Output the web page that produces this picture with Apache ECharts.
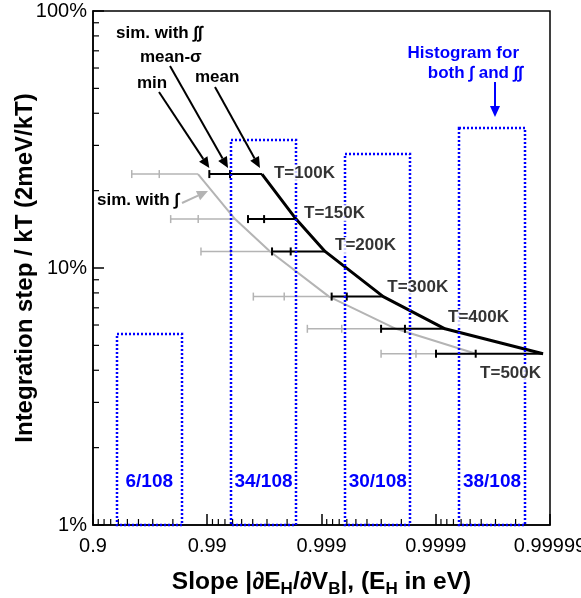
<!DOCTYPE html>
<html>
<head>
<meta charset="utf-8">
<script src="https://cdn.jsdelivr.net/npm/echarts@6/dist/echarts.min.js"></script>
<style>
html, body { margin: 0; padding: 0; background: #fff; }
#chart { width: 581px; height: 598px; }
</style>
</head>
<body>
<div id="chart"></div>
<script>
// integration step (in % of kT), one per temperature
var temps = ['T=100K', 'T=150K', 'T=200K', 'T=300K', 'T=400K', 'T=500K'];
var stepPct = [23.2, 15.5, 11.6, 7.74, 5.80, 4.64];

// x is plotted as (1 - slope) on a reversed log axis
// sim. with double integral (black)
var dblMin    = [0.00959, 0.00440, 0.00271, 0.000815, 0.000301, 0.0000995];
var dblMeanSd = [0.00632, 0.00318, 0.00186, 0.000601, 0.000186, 0.0000447];
var dblMean   = [0.00332, 0.00167, 0.000931, 0.000288, 0.0000830, 0.0000115];
// sim. with single integral (grey)
var sglMin    = [0.0458, 0.0209, 0.01135, 0.00395, 0.00133, 0.000301];
var sglMeanSd = [0.0263, 0.0120, 0.00624, 0.00212, 0.000665, 0.000149];
var sglMean   = [0.01205, 0.00571, 0.00282, 0.000859, 0.000223, 0.0000445];

// histogram of slopes, 108 samples
var histLo = [0.062, 0.0062, 0.00062, 0.000062];
var histHi = [0.0167, 0.00167, 0.000167, 0.0000167];
var histCount = [6, 34, 30, 38];
var histTotal = 108;

var xTickLabels = ['0.9', '0.99', '0.999', '0.9999', '0.99999'];
var minorMant = [2, 3, 4, 5, 6, 7, 8, 9];
var xDecades = [0.01, 0.001, 0.0001, 0.00001];
var yDecades = [1, 10];

// label offsets for the T= labels (px)
var tLabelOffset = [[11, -1], [7, -6], [9, -6], [3, -9], [2, -11], [-64, 20]];

var FONT = 'Liberation Sans, Arial, Helvetica, sans-serif';

var chart = echarts.init(document.getElementById('chart'));

var minorData = [];
xDecades.forEach(function (d) {
    minorMant.forEach(function (m) { minorData.push([m * d, 1, 0]); });
});
yDecades.forEach(function (d) {
    minorMant.forEach(function (m) { minorData.push([0.1, m * d, 1]); });
});

function zipBars(mins, sds, means) {
    return mins.map(function (v, i) { return [v, sds[i], means[i], stepPct[i]]; });
}

function renderMinor(params, api) {
    var cs = params.coordSys;
    var st = {stroke: '#000', lineWidth: 1.2};
    if (api.value(2) === 0) {
        var x = api.coord([api.value(0), 1])[0];
        return {type: 'line', shape: {x1: x, y1: cs.y + cs.height, x2: x, y2: cs.y + cs.height - 6}, style: st};
    }
    var y = api.coord([0.1, api.value(1)])[1];
    return {type: 'line', shape: {x1: cs.x, y1: y, x2: cs.x + 6, y2: y}, style: st};
}

function barRenderer(color, width, cap) {
    return function (params, api) {
        var p1 = api.coord([api.value(0), api.value(3)]);
        var p2 = api.coord([api.value(1), api.value(3)]);
        var p3 = api.coord([api.value(2), api.value(3)]);
        var st = {stroke: color, lineWidth: width};
        return {
            type: 'group',
            children: [
                {type: 'line', shape: {x1: p1[0], y1: p1[1], x2: p3[0], y2: p3[1]}, style: st},
                {type: 'line', shape: {x1: p1[0], y1: p1[1] - cap, x2: p1[0], y2: p1[1] + cap}, style: st},
                {type: 'line', shape: {x1: p2[0], y1: p2[1] - cap, x2: p2[0], y2: p2[1] + cap}, style: st}
            ]
        };
    };
}

function renderHist(params, api) {
    var cs = params.coordSys;
    var lo = api.value(0), hi = api.value(1), pct = api.value(2);
    var pa = api.coord([lo, pct]);
    var pb = api.coord([hi, pct]);
    var bottom = cs.y + cs.height;
    var x0 = Math.round(pa[0]), x1 = Math.round(pb[0]), y0 = Math.round(pa[1]);
    var cx = api.coord([Math.sqrt(lo * hi), pct])[0];
    return {
        type: 'group',
        children: [
            {type: 'rect', shape: {x: x0, y: y0, width: x1 - x0, height: bottom - y0},
             style: {fill: 'none', stroke: '#0000ff', lineWidth: 2.5, lineDash: [2, 2]}},
            {type: 'text', x: cx, y: bottom - 43,
             style: {text: histCount[params.dataIndex] + '/' + histTotal, fill: '#0000ff',
                     fontSize: 19, fontWeight: 'bold', fontFamily: FONT, align: 'center', verticalAlign: 'middle'}}
        ]
    };
}

var option = {
    backgroundColor: '#fff',
    animation: false,
    grid: {left: 93, right: 31, top: 11, bottom: 73, containLabel: false, outerBoundsMode: 'none',
           show: true, borderColor: '#000', borderWidth: 1.5},
    xAxis: {
        type: 'log', logBase: 10, min: 0.00001, max: 0.1, inverse: true,
        name: '{b|Slope |∂E}{s|H}{b|/∂V}{s|B}{b||, (E}{s|H}{b| in eV)}',
        nameLocation: 'middle', nameGap: 42, nameMoveOverlap: false,
        nameTextStyle: {
            rich: {
                b: {fontSize: 24.5, fontWeight: 'bold', color: '#000', fontFamily: FONT},
                s: {fontSize: 17, fontWeight: 'bold', color: '#000', fontFamily: FONT, padding: [14, 0, 0, 0]}
            }
        },
        axisLine: {lineStyle: {color: '#000', width: 1.5}},
        axisTick: {inside: true, length: 11, lineStyle: {color: '#000', width: 1.5}},
        axisLabel: {
            color: '#000', fontSize: 20, fontFamily: FONT, margin: 11,
            formatter: function (v) { return xTickLabels[Math.round(-Math.log10(v)) - 1]; }
        },
        splitLine: {show: false}
    },
    yAxis: {
        type: 'log', logBase: 10, min: 1, max: 100,
        name: 'Integration step / kT (2meV/kT)',
        nameLocation: 'middle', nameGap: 56, nameMoveOverlap: false,
        nameTextStyle: {fontSize: 24, fontWeight: 'bold', color: '#000', fontFamily: FONT},
        axisLine: {lineStyle: {color: '#000', width: 1.5}},
        axisTick: {inside: true, length: 11, lineStyle: {color: '#000', width: 1.5}},
        axisLabel: {
            color: '#000', fontSize: 20, fontFamily: FONT, margin: 6,
            formatter: function (v) { return Math.round(v) + '%'; }
        },
        splitLine: {show: false}
    },
    series: [
        {
            type: 'custom', name: 'minor', renderItem: renderMinor, data: minorData,
            encode: {x: 0, y: 1}, silent: true, z: 1
        },
        {
            type: 'line', name: 'single', data: sglMean.map(function (v, i) { return [v, stepPct[i]]; }),
            showSymbol: false, lineStyle: {color: '#b4b4b4', width: 2}, z: 2
        },
        {
            type: 'custom', name: 'singleBars', renderItem: barRenderer('#b4b4b4', 1.5, 4),
            data: zipBars(sglMin, sglMeanSd, sglMean), encode: {x: [0, 1, 2], y: 3}, z: 2
        },
        {
            type: 'line', name: 'double', data: dblMean.map(function (v, i) { return [v, stepPct[i]]; }),
            showSymbol: false, lineStyle: {color: '#000', width: 3}, z: 3
        },
        {
            type: 'custom', name: 'doubleBars', renderItem: barRenderer('#000', 2, 4),
            data: zipBars(dblMin, dblMeanSd, dblMean), encode: {x: [0, 1, 2], y: 3}, z: 3
        },
        {
            type: 'custom', name: 'hist', renderItem: renderHist,
            data: histLo.map(function (v, i) { return [v, histHi[i], histCount[i] / histTotal * 100]; }),
            encode: {x: [0, 1], y: 2}, z: 4
        },
        {
            type: 'scatter', name: 'tlabels', symbolSize: 0, z: 6,
            data: dblMean.map(function (v, i) {
                return {value: [v, stepPct[i]], label: {offset: tLabelOffset[i]}};
            }),
            label: {
                show: true, position: 'right', distance: 0,
                formatter: function (p) { return temps[p.dataIndex]; },
                color: '#000', fontSize: 17, fontWeight: 'bold', fontFamily: FONT,
                backgroundColor: '#fff', padding: [0, 1]
            }
        }
    ]
};

chart.setOption(option);

// annotations: arrows and notes
function arrow(x1, y1, x2, y2, color, w) {
    var ang = Math.atan2(y2 - y1, x2 - x1);
    var hl = 11, hw = 5;
    var bx = x2 - hl * Math.cos(ang), by = y2 - hl * Math.sin(ang);
    var nx = -Math.sin(ang) * hw, ny = Math.cos(ang) * hw;
    return [
        {type: 'line', z: 10, shape: {x1: x1, y1: y1, x2: bx, y2: by}, style: {stroke: color, lineWidth: w}},
        {type: 'polygon', z: 10, shape: {points: [[x2, y2], [bx + nx, by + ny], [bx - nx, by - ny]]}, style: {fill: color}}
    ];
}
function note(txt, x, y, color, align) {
    return {type: 'text', z: 10, x: x, y: y,
            style: {text: txt, fill: color, fontSize: 17, fontWeight: 'bold', fontFamily: FONT,
                    align: align || 'left', verticalAlign: 'middle'}};
}

var pMin = chart.convertToPixel({gridIndex: 0}, [dblMin[0], stepPct[0]]);
var pSd = chart.convertToPixel({gridIndex: 0}, [dblMeanSd[0], stepPct[0]]);
var pMean = chart.convertToPixel({gridIndex: 0}, [dblMean[0], stepPct[0]]);

var g = [];
g.push(note('sim. with ∫∫', 116, 33, '#000'));
g.push(note('mean-σ', 140, 57, '#000'));
g.push(note('min', 137, 83, '#000'));
g.push(note('mean', 195, 77, '#000'));
g = g.concat(arrow(159, 92, pMin[0], pMin[1] - 6, '#000', 2));
g = g.concat(arrow(170, 66, pSd[0] - 2, pSd[1] - 6, '#000', 2));
g = g.concat(arrow(215, 87, pMean[0] - 2, pMean[1] - 6, '#000', 2));
g.push(note('sim. with ∫', 97, 200, '#000'));
g = g.concat(arrow(182, 203, 208, 191, '#b4b4b4', 2));
g.push(note('Histogram for', 519, 53, '#0000ff', 'right'));
g.push(note('both ∫ and ∫∫', 523, 73, '#0000ff', 'right'));
g = g.concat(arrow(495, 82, 495, 117, '#0000ff', 2));

chart.setOption({graphic: g});
</script>
</body>
</html>
